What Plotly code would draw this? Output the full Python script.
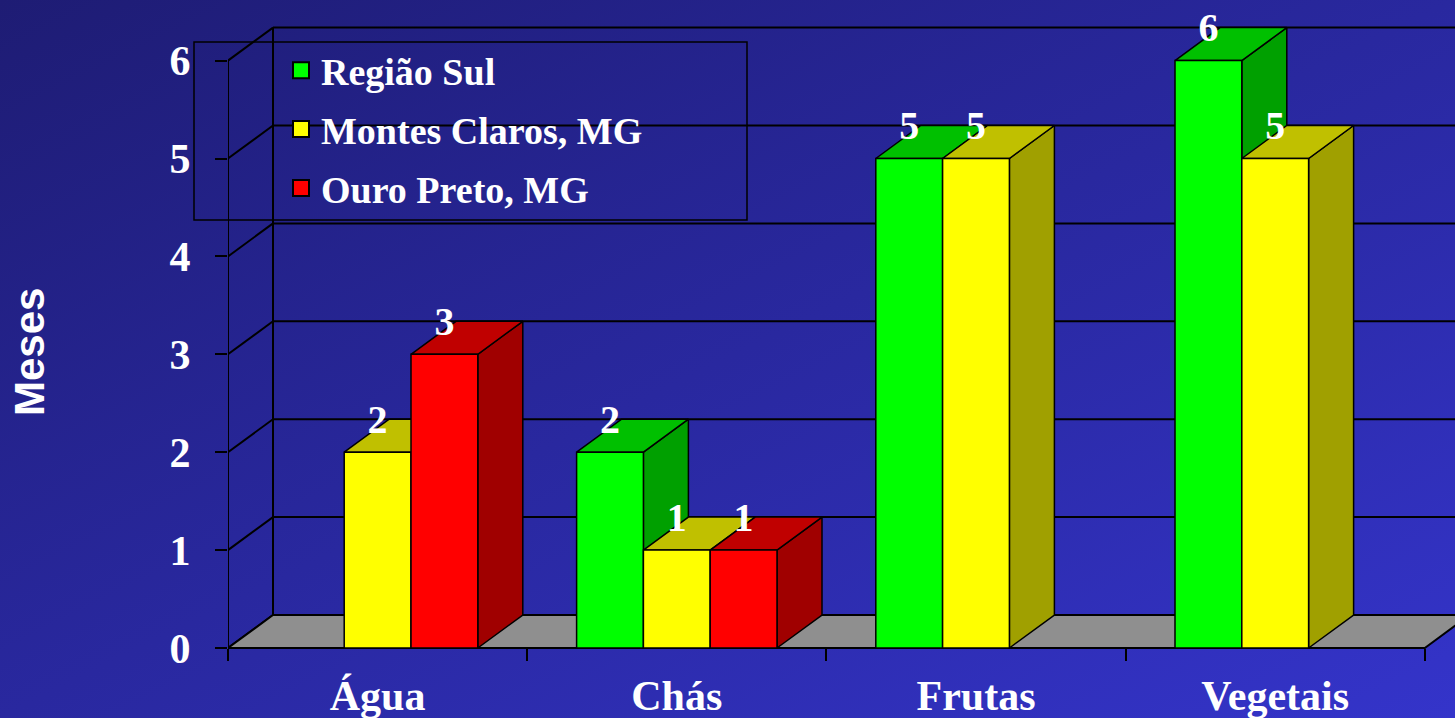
import base64
import plotly.graph_objects as go

# ---------------- data ----------------
categories = ["Água", "Chás", "Frutas", "Vegetais"]
series_names = ["Região Sul", "Montes Claros, MG", "Ouro Preto, MG"]
regiao_sul = [None, 2, 5, 6]
montes_claros = [2, 1, 5, 5]
ouro_preto = [3, 1, None, None]
y_ticks = [0, 1, 2, 3, 4, 5, 6]
y_title = "Meses"

# ---------------- styling ----------------
front_colors = ["#00ff00", "#ffff00", "#ff0000"]
top_colors = ["#00c000", "#c0c000", "#c00000"]
side_colors = ["#00a000", "#a0a000", "#a00000"]
floor_color = "#8f8f8f"
SERIF = "Liberation Serif"
SANS = "Liberation Sans"

W, H = 1455, 718
L = 228                 # left margin (px) = front left edge of the chart
PX_PER_X = 299.2        # px per category
PX_PER_Y = 97.9         # px per month
Y0_PX = 648             # pixel row of value 0
X0 = -0.5
X_END = len(categories) - 0.5
x_max = X0 + (W - L) / PX_PER_X
y_max = Y0_PX / PX_PER_Y
y_min = -(H - Y0_PX) / PX_PER_Y

DX = 45 / PX_PER_X      # 3D depth offset in x units
DY = 33 / PX_PER_Y      # 3D depth offset in y units
BAR_W = 66.8 / PX_PER_X
LABEL_OFF = 0.30

series = [regiao_sul, montes_claros, ouro_preto]
n_series = len(series)


def px_x(p):
    return (p - L) / (W - L)


def px_y(p):
    return 1 - p / H


fig = go.Figure()

# ---- walls: grid lines ----
gx, gy = [], []
for v in y_ticks:
    gx += [X0, X0 + DX, None]
    gy += [v, v + DY, None]
    if v > 0:
        gx += [X0 + DX, x_max + 1, None]
        gy += [v + DY, v + DY, None]
gx += [X0, X0, None, X0 + DX, X0 + DX, None]
gy += [0, max(y_ticks), None, DY, max(y_ticks) + DY, None]
fig.add_trace(go.Scatter(x=gx, y=gy, mode="lines", line=dict(color="black", width=2),
                         hoverinfo="skip", showlegend=False))

# ---- floor ----
fig.add_trace(go.Scatter(x=[X0, X_END, X_END + DX, X0 + DX, X0],
                         y=[0, 0, DY, DY, 0], mode="lines", fill="toself",
                         fillcolor=floor_color, line=dict(color="black", width=2),
                         hoverinfo="skip", showlegend=False))


# ---- bars (sides, then tops, then fronts) ----
def bar_geom(si, ci):
    center = ci + (si - (n_series - 1) / 2) * BAR_W
    return center - BAR_W / 2, center + BAR_W / 2


def add_faces(kind):
    for si, vals in enumerate(series):
        xs, ys = [], []
        for ci, v in enumerate(vals):
            if v is None:
                continue
            x0, x1 = bar_geom(si, ci)
            if kind == "side":
                xs += [x1, x1 + DX, x1 + DX, x1, x1, None]
                ys += [0, DY, v + DY, v, 0, None]
            elif kind == "top":
                xs += [x0, x1, x1 + DX, x0 + DX, x0, None]
                ys += [v, v, v + DY, v + DY, v, None]
            else:
                xs += [x0, x1, x1, x0, x0, None]
                ys += [0, 0, v, v, 0, None]
        col = {"side": side_colors, "top": top_colors, "front": front_colors}[kind][si]
        fig.add_trace(go.Scatter(x=xs, y=ys, mode="lines", fill="toself", fillcolor=col,
                                 line=dict(color="black", width=1.5),
                                 hoverinfo="skip", showlegend=False))


for kind in ["side", "top", "front"]:
    add_faces(kind)

# ---- value labels ----
lx, ly, lt = [], [], []
for si, vals in enumerate(series):
    for ci, v in enumerate(vals):
        if v is None:
            continue
        x0, x1 = bar_geom(si, ci)
        lx.append((x0 + x1) / 2)
        ly.append(v + LABEL_OFF)
        lt.append(str(v))
fig.add_trace(go.Scatter(x=lx, y=ly, text=lt, mode="text", textposition="middle center",
                         textfont=dict(family=SERIF, size=40, color="white", weight="bold"),
                         cliponaxis=False, hoverinfo="skip", showlegend=False))

# ---- legend entries ----
for si, name in enumerate(series_names):
    fig.add_trace(go.Scatter(x=[None], y=[None], mode="markers", name=name,
                             legendgroup=name,
                             marker=dict(symbol="square", size=16, color=front_colors[si],
                                         line=dict(color="black", width=2))))

# ---- background gradient ----
svg = ('<svg xmlns="http://www.w3.org/2000/svg" width="1455" height="718">'
       '<defs><linearGradient id="g" x1="0" y1="0" x2="1" y2="1">'
       '<stop offset="0" stop-color="#1e1c74"/><stop offset="1" stop-color="#3434ca"/>'
       '</linearGradient></defs><rect width="1455" height="718" fill="url(#g)"/></svg>')
src = "data:image/svg+xml;base64," + base64.b64encode(svg.encode()).decode()

fig.update_layout(
    width=W, height=H,
    margin=dict(l=L, r=0, t=0, b=0),
    paper_bgcolor="#2828a0",
    plot_bgcolor="rgba(0,0,0,0)",
    images=[dict(source=src, xref="paper", yref="paper", x=px_x(0), y=1,
                 sizex=W / (W - L), sizey=1, sizing="stretch", xanchor="left",
                 yanchor="top", layer="below")],
    showlegend=True,
    legend=dict(x=px_x(281), y=px_y(39), xanchor="left", yanchor="top",
                font=dict(family=SERIF, size=38, color="white", weight="bold"),
                bgcolor="rgba(0,0,0,0)", borderwidth=0, tracegroupgap=6.5),
    xaxis=dict(range=[X0, x_max], tickvals=list(range(len(categories))), ticktext=categories,
               ticks="", showgrid=False, zeroline=False, showline=False,
               anchor="free", position=(H - Y0_PX) / H,
               tickfont=dict(family=SERIF, size=42, color="white", weight="bold"),
               ticklabelstandoff=19,
               minor=dict(tickvals=[i - 0.5 for i in range(len(categories) + 1)],
                          ticks="outside", ticklen=12, tickcolor="black", tickwidth=1.5,
                          showgrid=False)),
    yaxis=dict(range=[y_min, y_max], tickvals=y_ticks, ticks="outside", ticklen=12,
               tickcolor="black", tickwidth=1.5, showgrid=False, zeroline=False,
               showline=False, ticklabelstandoff=16,
               tickfont=dict(family=SERIF, size=42, color="white", weight="bold")),
    shapes=[dict(type="rect", xref="paper", yref="paper", x0=px_x(194), x1=px_x(747),
                 y0=px_y(220), y1=px_y(42), line=dict(color="black", width=1.5))],
    annotations=[dict(text=y_title, xref="paper", yref="paper", x=px_x(30), y=px_y(352),
                      xanchor="center", yanchor="middle",
                      textangle=-90, showarrow=False,
                      font=dict(family=SANS, size=42, color="white", weight="bold"))],
)

fig.write_html("out.html", config={"displayModeBar": False},
               post_script="document.body.style.margin='0';")
